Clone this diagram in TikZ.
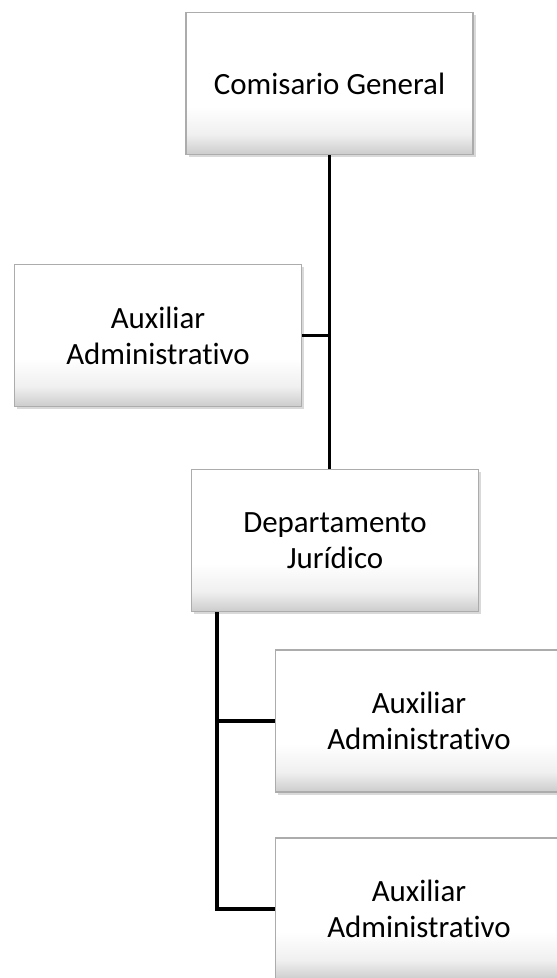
\documentclass[tikz,border=0pt]{standalone}
\usepackage{fontspec}
\setmainfont{Carlito}[Ligatures=NoCommon]
\usepackage{tikz}
\usetikzlibrary{calc}
\usetikzlibrary{shadows}
\pgfdeclareverticalshading{caja}{100bp}{color(0bp)=(gray!40); color(25bp)=(gray!40); color(32bp)=(gray!12); color(42bp)=(white); color(100bp)=(white)}

\begin{document}
\begin{tikzpicture}[x=0.02cm,y=-0.02cm,
 cargo/.style={rectangle,draw=gray!65,line width=0.8pt,shading=caja,
  drop shadow={shadow xshift=1.5pt,shadow yshift=-1.5pt,opacity=0.3},
  minimum width=5.74cm,minimum height=2.84cm,align=center,font=\fontsize{17.6}{20.4}\selectfont},
 linea/.style={line width=2pt,black}]
 \useasboundingbox (0,0) rectangle (557,978);
 %
 \node[cargo] (cg) at (329.5,83.5) {Comisario General};
 \node[cargo] (aux1) at (158,335.5) {Auxiliar\\Administrativo};
 \node[cargo] (dj) at (335,540.5) {Departamento\\Jurídico};
 \node[cargo] (aux2) at (419,721) {Auxiliar\\Administrativo};
 \node[cargo] (aux3) at (419,909) {Auxiliar\\Administrativo};
 %
 \draw[linea] (cg.south) -- (cg.south |- dj.north);
 \draw[linea] (aux1.east) -- (aux1.east -| cg.south);
 %
 \coordinate (rama) at ($(dj.south west)+(26,0)$);
 \draw[linea] (rama) |- (aux3.west);
 \foreach \X in {aux2}
 {\draw[linea] (\X.west -| rama) -- (\X.west);}
\end{tikzpicture}
\end{document}
